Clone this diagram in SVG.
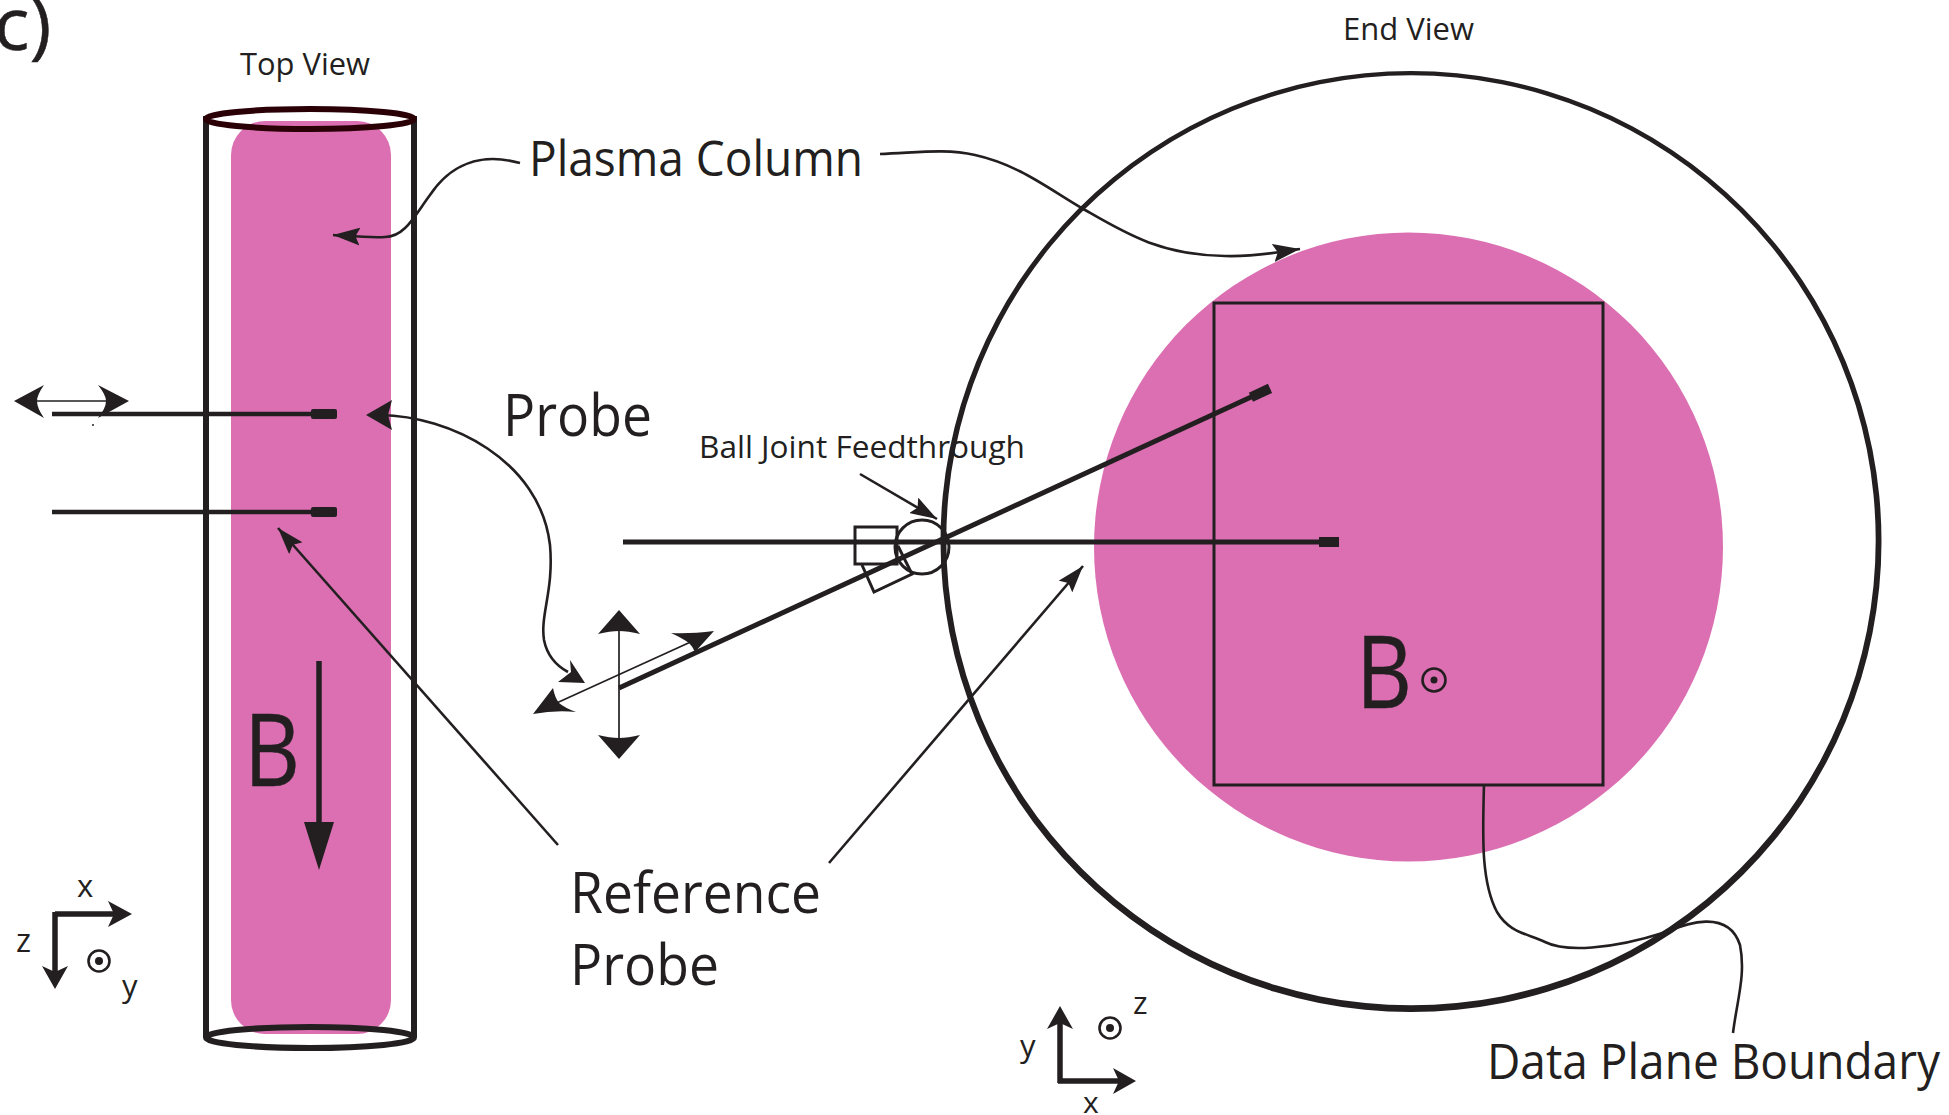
<svg xmlns="http://www.w3.org/2000/svg" width="1949" height="1115" viewBox="0 0 1949 1115">
<style>
text{font-family:"Open Sans","Noto Sans","Liberation Sans",sans-serif;fill:#231f20}
.big{stroke:#231f20;stroke-width:.5}
.ln{fill:none;stroke:#231f20;stroke-linecap:butt}
.c{fill:none;stroke:#231f20;stroke-width:2.6}
.p{fill:#db6fb2}
.f{fill:#231f20}
</style>
<defs>
<marker id="m" viewBox="0 0 30 20" refX="30" refY="10" markerUnits="userSpaceOnUse" markerWidth="27" markerHeight="18" orient="auto"><path class="f" d="M30,10 L0,0 L5,10 L0,20Z"/></marker>
</defs>

<g id="top-view">
<rect class="p" x="231" y="121" width="160" height="913" rx="34"/>
<path class="ln" stroke-width="6" d="M206,116V1037M414,116V1037"/>
<ellipse cx="310" cy="119" rx="104" ry="10" fill="none" stroke="#2a0006" stroke-width="6"/>
<ellipse cx="310" cy="1037.5" rx="104" ry="10.5" fill="none" stroke="#231f20" stroke-width="6"/>
<text x="240" y="75" font-size="31" textLength="130" lengthAdjust="spacingAndGlyphs">Top View</text>
<path class="ln" stroke-width="4.5" d="M52,414H335M52,512H335"/>
<rect class="f" x="311" y="409" width="26" height="10" rx="2"/>
<rect class="f" x="311" y="507" width="26" height="10" rx="2"/>
<path class="ln" stroke-width="1.5" d="M30,401H115"/>
<path class="f" d="M14,401L44,385Q37,395 37,401Q37,408 44,418Z"/>
<path class="f" d="M129,401L98,385Q106,395 106,401Q106,408 98,418Z"/>
<circle class="f" cx="93" cy="425" r="1"/>
<text class="big" x="244" y="786" font-size="100" textLength="56" lengthAdjust="spacingAndGlyphs">B</text>
<path class="ln" stroke-width="5.5" d="M319,661V830"/>
<path class="f" d="M304,822H334L319,870Z"/>
</g>

<g id="end-view">
<circle class="p" cx="1408.5" cy="547" r="314.5"/>
<path class="f" fill-rule="evenodd" d="M940.5,541.5a470.5,470.5 0 1,0 941,0a470.5,470.5 0 1,0 -941,0ZM946.3,540.3a464.7,464.7 0 1,0 929.4,0a464.7,464.7 0 1,0 -929.4,0Z"/>
<rect x="1214" y="303" width="389" height="482" fill="none" stroke="#231f20" stroke-width="3"/>
<text x="1343" y="40" font-size="31" textLength="131" lengthAdjust="spacingAndGlyphs">End View</text>
<text class="big" x="1356" y="708" font-size="100" textLength="56" lengthAdjust="spacingAndGlyphs">B</text>
<circle cx="1434" cy="680" r="11.5" fill="none" stroke="#231f20" stroke-width="2.6"/>
<circle class="f" cx="1434" cy="680" r="3.5"/>
</g>

<g id="probe-assembly">
<path class="ln" stroke-width="5" d="M623,542H1325"/>
<rect class="f" x="1319" y="537" width="20" height="10"/>
<path class="ln" stroke-width="5" d="M619,688L1262,392"/>
<rect class="f" x="-10" y="-5" width="21" height="10" transform="translate(1260,393) rotate(-24.7)"/>
<rect x="855" y="527" width="42" height="37" fill="none" stroke="#231f20" stroke-width="3"/>
<path class="ln" stroke-width="3" d="M862,565L874,592L912,574L898,546"/>
<circle cx="922" cy="547" r="27" fill="none" stroke="#231f20" stroke-width="3"/>
<path class="ln" stroke-width="1.7" d="M619,625V745"/>
<path class="f" d="M619,610L598,634Q610,631 619,631Q628,631 640,634Z"/>
<path class="f" d="M619,759L598,735Q610,738 619,738Q628,738 640,735Z"/>
<path class="ln" stroke-width="1.7" d="M550,706L695,640"/>
<path class="f" d="M533,714L553,688Q555,698 559,703Q565,708 576,712Q555,710 533,714Z"/>
<path class="f" d="M714,631Q690,634 671,633Q682,638 689,643Q693,647 695,652Z"/>
</g>

<g id="connectors">
<path class="c" marker-end="url(#m)" d="M520,163C480,152 450,165 430,195C415,215 405,237 385,237C370,238 350,236 333,235"/>
<path class="c" marker-end="url(#m)" d="M880,154C915,153 945,148 975,155C1020,165 1050,190 1085,210C1125,233 1160,255 1225,256C1255,257 1280,252 1300,249"/>
<path class="c" d="M380,415C450,416 540,460 550,545C554,590 540,615 544,640C547,655 555,665 568,672"/>
<path class="f" d="M366,415L392,400L388,415L392,430Z"/>
<path class="f" d="M585,683L570,660L571,672L558,682Z"/>
<path class="c" marker-end="url(#m)" d="M558,845L278,528"/>
<path class="c" marker-end="url(#m)" d="M829,863L1083,566"/>
<path class="c" marker-end="url(#m)" d="M860,474L937,519"/>
<path class="c" d="M1484,784C1483,830 1480,880 1497,912C1509,932 1525,933 1545,942C1565,952 1610,950 1666,932C1685,924 1728,908 1740,945C1746,975 1737,1000 1733,1033"/>
</g>

<g id="labels">
<text class="big" x="-6" y="50" font-size="74">c)</text>
<text x="529" y="176" font-size="50" textLength="334" lengthAdjust="spacingAndGlyphs">Plasma Column</text>
<text x="503" y="436" font-size="58" textLength="149" lengthAdjust="spacingAndGlyphs">Probe</text>
<text x="699" y="458" font-size="31" textLength="326" lengthAdjust="spacingAndGlyphs">Ball Joint Feedthrough</text>
<text x="570" y="913" font-size="56" textLength="251" lengthAdjust="spacingAndGlyphs">Reference</text>
<text x="570" y="985" font-size="56" textLength="149" lengthAdjust="spacingAndGlyphs">Probe</text>
<text x="1487" y="1079" font-size="50" textLength="453" lengthAdjust="spacingAndGlyphs">Data Plane Boundary</text>
</g>

<g id="axes-top">
<path class="ln" stroke-width="5.5" d="M55,914H115M55,912V975"/>
<path class="f" d="M132,914L108,901L114,914L108,927Z"/>
<path class="f" d="M55,989L42,966L55,972L68,966Z"/>
<circle cx="99" cy="961" r="10.5" fill="none" stroke="#231f20" stroke-width="2.6"/>
<circle class="f" cx="99" cy="961" r="4"/>
<text x="77" y="897" font-size="31">x</text>
<text x="16" y="952" font-size="32">z</text>
<text x="122" y="997" font-size="31">y</text>
</g>

<g id="axes-end">
<path class="ln" stroke-width="5.5" d="M1060,1083V1020M1058,1081H1120"/>
<path class="f" d="M1060,1006L1047,1029L1060,1023L1073,1029Z"/>
<path class="f" d="M1136,1081L1113,1068L1119,1081L1113,1094Z"/>
<circle cx="1110" cy="1028" r="10.5" fill="none" stroke="#231f20" stroke-width="2.6"/>
<circle class="f" cx="1110" cy="1028" r="4"/>
<text x="1133" y="1014" font-size="31">z</text>
<text x="1020" y="1057" font-size="31">y</text>
<text x="1083" y="1113" font-size="30">x</text>
</g>
</svg>
